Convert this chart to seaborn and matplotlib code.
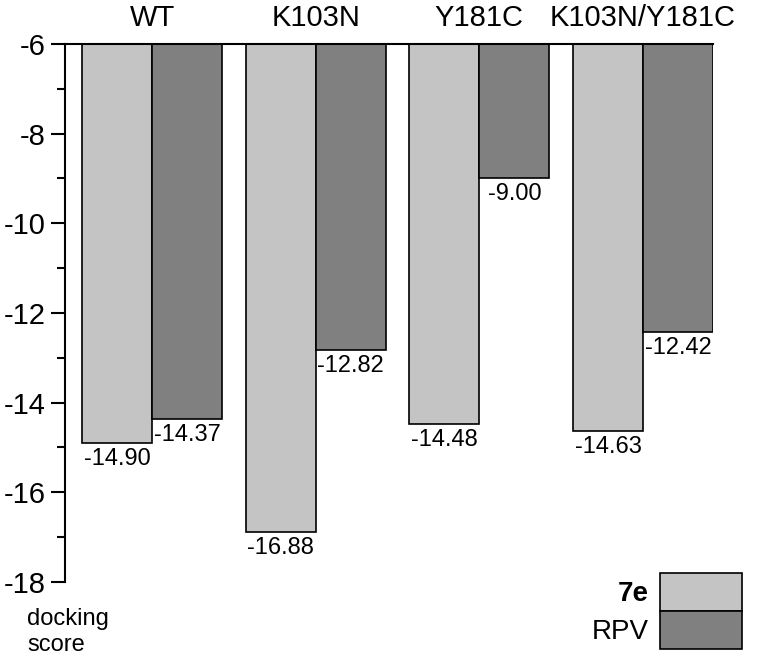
import matplotlib
matplotlib.use("Agg")
import matplotlib.pyplot as plt
import seaborn as sns
import pandas as pd

categories = ["WT", "K103N", "Y181C", "K103N/Y181C"]
series_names = ["7e", "RPV"]
values_7e = [-14.90, -16.88, -14.48, -14.63]
values_rpv = [-14.37, -12.82, -9.00, -12.42]
y_ticks = [-6, -8, -10, -12, -14, -16, -18]
colors = ["#c4c4c4", "#808080"]

df = pd.DataFrame({
    "category": categories * 2,
    "series": [series_names[0]] * 4 + [series_names[1]] * 4,
    "score": values_7e + values_rpv,
})

sns.set_style("white")
plt.rcParams["font.family"] = ["Liberation Sans", "DejaVu Sans"]
plt.rcParams["text.color"] = "black"
plt.rcParams["xtick.color"] = "black"
plt.rcParams["ytick.color"] = "black"
plt.rcParams["axes.labelcolor"] = "black"

fig = plt.figure(figsize=(7.6, 6.58), dpi=100)
ax = fig.add_axes([65 / 760, 1 - 582 / 658, (713 - 65) / 760, (582 - 44) / 658])

sns.barplot(data=df, x="category", y="score", hue="series", order=categories,
            hue_order=series_names, palette=colors, width=0.856,
            edgecolor="black", linewidth=1.2, ax=ax, legend=True)

ax.set_ylim(-18, -6)
ax.set_xlim(-0.532, 3.428)
ax.set_yticks(y_ticks)
ax.set_yticklabels([str(t) for t in y_ticks], fontsize=21)
ax.set_yticks([-7, -9, -11, -13, -15, -17], minor=True)
ax.tick_params(axis="y", which="major", length=10, width=1.5, direction="out", left=True, pad=4, colors="black")
ax.tick_params(axis="y", which="minor", length=6, width=1.5, direction="out", left=True, colors="black")
ax.xaxis.tick_top()
ax.tick_params(axis="x", length=0, labelsize=21, pad=9, top=True, bottom=False, colors="black")
ax.set_xlabel("")
ax.set_ylabel("")

for side in ["right", "bottom"]:
    ax.spines[side].set_visible(False)
for side in ["left", "top"]:
    ax.spines[side].set_visible(True)
    ax.spines[side].set_linewidth(1.5)
    ax.spines[side].set_color("black")

for cont in ax.containers:
    ax.bar_label(cont, labels=[f"{b.get_height():.2f}" for b in cont], padding=3.5,
                 fontsize=17, color="black")

handles, labels = ax.get_legend_handles_labels()
leg = ax.legend(handles, labels, markerfirst=False, frameon=False,
                handlelength=2.95, handleheight=1.73, labelspacing=0.0,
                handletextpad=0.4, borderpad=0, borderaxespad=0,
                fontsize=20, loc="lower right",
                bbox_to_anchor=(742 / 760, 1 - 649 / 658),
                bbox_transform=fig.transFigure)
for t in leg.get_texts():
    t.set_color("black")
    if t.get_text() == "7e":
        t.set_fontweight("bold")

fig.text(27 / 760, 1 - 632 / 658, "docking\nscore", fontsize=17, va="center", ha="left",
         linespacing=1.2, color="black")

fig.savefig("out.png", dpi=100)
